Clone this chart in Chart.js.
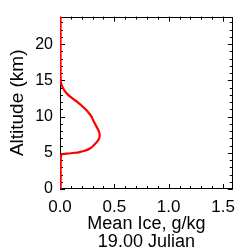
<!DOCTYPE html>
<html>
<head>
<meta charset="utf-8">
<script src="https://cdn.jsdelivr.net/npm/chart.js@4/dist/chart.umd.min.js"></script>
<style>
  html, body { margin: 0; padding: 0; background: #fff; }
  #wrap { width: 243px; height: 251px; }
</style>
</head>
<body>
<div id="wrap"><canvas id="myChart"></canvas></div>
<script>
// altitude (km) and mean ice (g/kg)
var altitude = [0, 1, 2, 3, 4, 4.5, 4.7, 4.8, 4.85, 4.9, 5.0, 5.1, 5.25, 5.4, 5.6, 5.8, 6.1, 6.5, 7.0, 7.5, 8.0, 8.5, 9.0, 9.5, 10, 10.5, 11, 11.5, 12, 12.5, 13, 13.5, 14, 14.5, 15, 16, 18, 20, 22, 23.8];
var meanIce  = [0.006, 0.006, 0.006, 0.006, 0.007, 0.008, 0.011, 0.018, 0.04, 0.08, 0.14, 0.18, 0.22, 0.25, 0.275, 0.295, 0.315, 0.34, 0.36, 0.365, 0.357, 0.34, 0.322, 0.305, 0.29, 0.265, 0.235, 0.2, 0.16, 0.115, 0.075, 0.045, 0.025, 0.012, 0.007, 0.005, 0.005, 0.005, 0.005, 0.005];

var xTicks = [0, 0.5, 1.0, 1.5];
var yTicks = [0, 5, 10, 15, 20];
var xRange = [0, 1.59];
var yRange = [0, 23.8];

var points = [];
for (var i = 0; i < altitude.length; i++) {
  points.push({x: meanIce[i], y: altitude[i]});
}

// IDL style box with inward ticks on all four sides
var boxTicks = {
  id: 'boxTicks',
  beforeDatasetsDraw: function(chart) {
    var ctx = chart.ctx, a = chart.chartArea;
    var xs = chart.scales.x, ys = chart.scales.y;
    ctx.save();
    ctx.strokeStyle = '#000';
    ctx.lineWidth = 1;
    ctx.strokeRect(Math.round(a.left) + 0.5, Math.round(a.top) + 0.5, Math.round(a.right - a.left) - 1, Math.round(a.bottom - a.top) - 1);
    ctx.beginPath();
    for (var k = 0; k <= 15; k++) {
      var v = k / 10;
      var px = Math.round(xs.getPixelForValue(v)) + 0.5;
      var len = (k % 5 === 0) ? 5 : 3;
      ctx.moveTo(px, a.bottom); ctx.lineTo(px, a.bottom - len);
      ctx.moveTo(px, a.top); ctx.lineTo(px, a.top + len);
    }
    for (var j = 0; j <= 23; j++) {
      var py = Math.round(ys.getPixelForValue(j)) + 0.5;
      var l2 = (j % 5 === 0) ? 5 : 3;
      ctx.moveTo(a.left, py); ctx.lineTo(a.left + l2, py);
      ctx.moveTo(a.right, py); ctx.lineTo(a.right - l2, py);
    }
    ctx.stroke();
    ctx.restore();
  }
};

var ctx = document.getElementById('myChart').getContext('2d');
var chart = new Chart(ctx, {
  type: 'scatter',
  data: {
    datasets: [{
      data: points,
      showLine: true,
      borderColor: '#ff0000',
      borderWidth: 2.2,
      pointRadius: 0,
      tension: 0.3,
      fill: false
    }]
  },
  options: {
    responsive: true,
    maintainAspectRatio: false,
    animation: false,
    layout: { padding: { top: 6, right: 3, left: 0, bottom: 0 } },
    plugins: { legend: { display: false }, tooltip: { enabled: false } },
    scales: {
      x: {
        type: 'linear',
        min: xRange[0],
        max: xRange[1],
        afterBuildTicks: function(s) { s.ticks = xTicks.map(function(v) { return {value: v}; }); },
        afterFit: function(s) { s.height = 62; },
        grid: { display: false, drawTicks: false },
        border: { display: false },
        ticks: {
          padding: 8,
          color: '#000',
          maxRotation: 0,
          font: { family: 'Liberation Sans', size: 17 },
          callback: function(v) { return v.toFixed(1); }
        },
        title: {
          display: true,
          text: ['Mean Ice, g/kg', '19.00 Julian'],
          color: '#000',
          font: { family: 'Liberation Sans', size: 18, lineHeight: 1.0 },
          padding: { top: 0, bottom: 0 }
        }
      },
      y: {
        type: 'linear',
        min: yRange[0],
        max: yRange[1],
        afterBuildTicks: function(s) { s.ticks = yTicks.map(function(v) { return {value: v}; }); },
        afterFit: function(s) { s.width = 60; },
        grid: { display: false, drawTicks: false },
        border: { display: false },
        ticks: {
          padding: 7,
          color: '#000',
          font: { family: 'Liberation Sans', size: 16 }
        },
        title: {
          display: true,
          text: 'Altitude (km)',
          color: '#000',
          font: { family: 'Liberation Sans', size: 19, lineHeight: 1.2 },
          padding: { top: 6, bottom: 0 }
        }
      }
    }
  },
  plugins: [boxTicks]
});
</script>
</body>
</html>
